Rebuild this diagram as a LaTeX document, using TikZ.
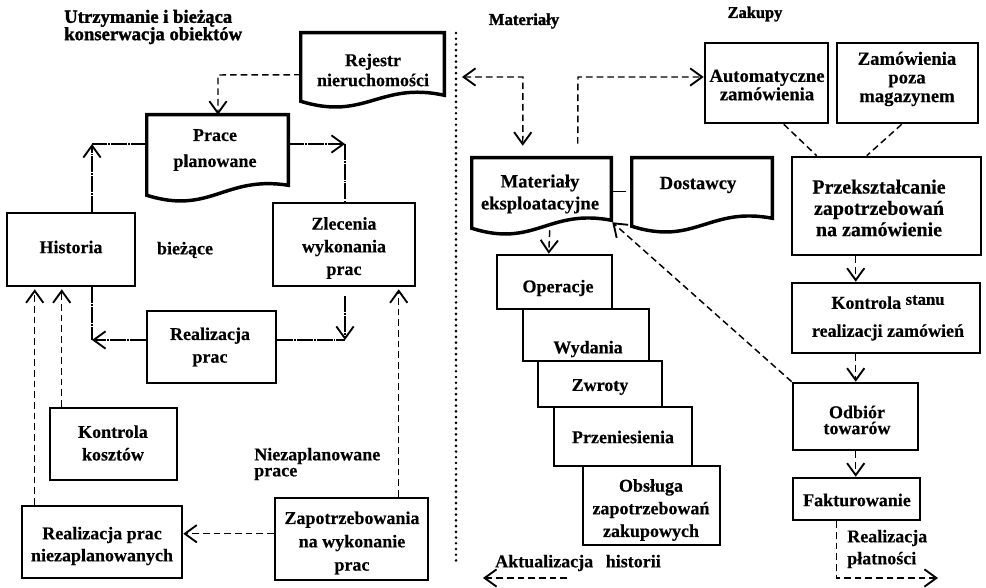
\documentclass[tikz,border=0pt]{standalone}
\usepackage{fontspec}
\setmainfont{Liberation Serif}[BoldFeatures={FakeBold=0.4}]
\newfontfamily\heavyfont{Liberation Serif}[BoldFeatures={FakeBold=1.6}]
\usetikzlibrary{arrows.meta,calc}
\newcommand\BoxN[5]{\node[boxst, minimum width={(#4-#2)*0.75pt}, minimum height={(#5-#3)*0.75pt}] (#1) at ({(#2+#4)/2},{(#3+#5)/2}) {};}
\newcommand\DocN[6]{\node[docst, minimum width={(#4-#2)*0.75pt}, minimum height={(#5-#3)*0.75pt}] (#1) at ({(#2+#4)/2},{(#3+#5)/2}) {};
 \draw[docline] (#1.south west) -- (#1.north west) -- (#1.north east) -- ($(#1.south east)+(0,#6)$) .. controls ($(#1.south west)!0.55!(#1.south east)+(0,-20)$) and ($(#1.south west)!0.45!(#1.south east)+(0,20)$) .. (#1.south west) -- cycle;}
\tikzset{
  boxst/.style={draw, line width=1.9pt, fill=white, inner sep=0pt},
  docst/.style={inner sep=0pt},
  docline/.style={line width=2.6pt, line join=miter, fill=white},
  lbl/.style 2 args={font=\bfseries\fontsize{#1}{#2}\selectfont, align=center, inner sep=0pt},
  ttl/.style 2 args={font=\heavyfont\bfseries\fontsize{#1}{#2}\selectfont, inner sep=0pt},
  dl/.style={line width=1.1pt, dash pattern=on 5pt off 3pt},
  tl/.style={line width=0.8pt, dash pattern=on 12pt off 0.8pt on 1.2pt off 0.8pt},
  ar/.style={-{Straight Barb[length=9pt,width=13pt,line width=1.4pt]}},
  ab/.style={{Straight Barb[length=9pt,width=13pt,line width=1.4pt]}-{Straight Barb[length=9pt,width=13pt,line width=1.4pt]}},
  dotln/.style={line width=2.2pt, dash pattern=on 0pt off 4.3pt, line cap=round}
}
\begin{document}
\begin{tikzpicture}[x=0.75pt,y=-0.75pt]
\fill[white] (0,0) rectangle (986,588);
\useasboundingbox (0,0) rectangle (986,588);

% titles
\node[ttl={14}{13}, anchor=west, align=left] (t1) at (64,27) {Utrzymanie i bieżąca\\konserwacja obiektów};
\node[ttl={12.5}{14}] (t2) at (524,21) {Materiały};
\node[ttl={12.3}{14}] (t3) at (755,14) {Zakupy};

% dotted separator
\coordinate (dtop) at (456,33);
\coordinate (dbot) at (456,563);
\draw[dotln] (dtop) -- (dbot);

% document shapes
\DocN{rej}{301}{33}{444}{101}{-6}
\DocN{prace}{147}{115}{288}{195}{-10}
\DocN{mat}{472}{158}{611}{228}{-8}
\DocN{dost}{632}{158}{772}{226}{-8}

% boxes left
\BoxN{hist}{7}{213}{135}{286}
\BoxN{zlec}{273}{203}{415}{286}
\BoxN{real}{147}{311}{276}{383}
\BoxN{kontr}{50}{408}{177}{480}
\BoxN{realn}{22}{506}{182}{578}
\BoxN{zapot}{275}{498}{428}{580}

% stacked boxes
\BoxN{ops}{497}{255}{612}{309}
\BoxN{wyd}{523}{309}{649}{361}
\BoxN{zwr}{538}{361}{662}{407}
\BoxN{prz}{554}{407}{692}{466}
\BoxN{obs}{583}{466}{720}{545}

% boxes right
\BoxN{auto}{705}{43}{828}{123}
\BoxN{poza}{837}{43}{978}{123}
\BoxN{przek}{792}{157}{981}{255}
\BoxN{kontst}{792}{283}{980}{353}
\BoxN{odb}{793}{383}{918}{450}
\BoxN{fakt}{793}{478}{920}{520}

% labels
\node[lbl={13.5}{15}] (rej-t) at (373,70) {Rejestr\\nieruchomości};
\node[lbl={13.5}{19.5}] (prace-t) at (215,150) {Prace\\planowane};
\node[lbl={13.5}{17}] (hist-t) at (71,247) {Historia};
\node[lbl={13.5}{17}] (zlec-t) at (344,248) {Zlecenia\\wykonania\\prac};
\node[lbl={13.5}{17}] (real-t) at (210,347) {Realizacja\\prac};
\node[lbl={13.5}{17}] (kontr-t) at (113,443) {Kontrola\\kosztów};
\node[lbl={13.5}{16.5}] (realn-t) at (102,546) {Realizacja prac\\niezaplanowanych};
\node[lbl={13.5}{17.5}] (zapot-t) at (352,543) {Zapotrzebowania\\na wykonanie\\prac};
\node[lbl={14}{16.5}] (mat-t) at (540,194) {Materiały\\eksploatacyjne};
\node[lbl={14}{17}] (dost-t) at (698,185) {Dostawcy};
\node[lbl={13.5}{17}] (ops-t) at (558,288) {Operacje};
\node[lbl={13.5}{17}] (wyd-t) at (588,349) {Wydania};
\node[lbl={13.5}{17}] (zwr-t) at (600,387) {Zwroty};
\node[lbl={13.5}{17}] (prz-t) at (623,437) {Przeniesienia};
\node[lbl={13.5}{17}] (obs-t) at (651,510) {Obsługa\\zapotrzebowań\\zakupowych};
\node[lbl={14}{12}] (auto-t) at (767,85) {Automatyczne\\zamówienia};
\node[lbl={14}{14}] (poza-t) at (907,79) {Zamówienia\\poza\\magazynem};
\node[lbl={15}{16}] (przek-t) at (879,208) {Przekształcanie\\zapotrzebowań\\na zamówienie};
\node[lbl={13.5}{21}] (kontst-t) at (888,318) {Kontrola \raisebox{3pt}{\fontsize{12.5}{12}\selectfont stanu}\\realizacji zamówień};
\node[lbl={13.5}{12}] (odb-t) at (857,420) {Odbiór\\towarów};
\node[lbl={13.5}{17}] (fakt-t) at (857,500) {Fakturowanie};

% free texts
\node[lbl={13.5}{17}] (bz) at (185,250) {bieżące};
\node[lbl={13.5}{12}, align=left, anchor=west] (np) at (254,464) {Niezaplanowane\\prace};
\node[lbl={13.5}{17}] (akt) at (578,563) {Aktualizacja\hspace{0.7em}historii};
\node[lbl={13.5}{16.5}, align=left, anchor=west] (rp) at (847,549) {Realizacja\\płatności};

% left connectors
\coordinate (k1) at (218,75);
\draw[dl,ar] ($(rej.north west)+(0,42)$) -- (k1) -- (k1 |- prace.north);
\coordinate (k2) at (92,144);
\draw[tl] (prace.north west |- k2) -- (k2);
\draw[tl,ar] (k2 |- hist.north) -- (k2);
\coordinate (k3) at (345,144);
\draw[tl,ar] (prace.north east |- k3) -- (k3);
\draw[tl] (k3) -- (k3 |- zlec.north);
\coordinate (k4) at (92,340);
\draw[tl] (k4 |- hist.south) -- (k4);
\draw[tl,ar] (real.west |- k4) -- (k4);
\coordinate (k5) at (345,340);
\draw[tl] (real.east |- k5) -- (k5);
\draw[tl,ar] ($(zlec.south)+(1,9)$) -- (k5);
\draw[dl,ar] ($(kontr.north west)+(13,0)$) -- ($(hist.south west)+(56,2)$);
\draw[dl,ar] ($(realn.north west)+(14,0)$) -- ($(hist.south west)+(29,2)$);
\draw[dl,ar] ($(zapot.north west)+(0,37)$) -- ($(realn.north east)+(0,29)$);
\draw[dl,ar] ($(zapot.north west)+(125,0)$) -- ($(zlec.south west)+(127,2)$);

% right connectors
\coordinate (k7) at (462,77);
\coordinate (k8) at (523,77);
\draw[dl,ab] (k7) -- (k8) -- ($(mat.north west)+(51,-12)$);
\coordinate (k9) at (578,77);
\draw[dl,ar] ($(mat.north west)+(106,-14)$) -- (k9) -- (auto.west |- k9);
\draw[line width=1pt] ($(mat.north east)+(2,34)$) -- ($(dost.north west)+(-6,34)$);
\draw[dl,ar] ($(mat.south west)+(78,2)$) -- ($(ops.north west)+(53,0)$);
\draw[dl,ar] (odb.north west) -- ($(mat.south east)+(1,-6)$);
\draw[dl] ($(auto.south west)+(80,0)$) -- ($(przek.north west)+(26,0)$);
\draw[dl] ($(poza.south west)+(66,0)$) -- ($(przek.north west)+(76,0)$);
\draw[dl,ar] ($(przek.south west)+(65,0)$) -- ($(kontst.north west)+(65,0)$);
\draw[dl,ar] ($(kontst.south west)+(65,0)$) -- ($(odb.north west)+(64,0)$);
\draw[dl,ar] ($(odb.south west)+(64,0)$) -- ($(fakt.north west)+(64,0)$);
\coordinate (k10) at (938,578);
\draw[dl,ar] ($(fakt.south west)+(45,0)$) |- (k10);
\coordinate (k11) at (567,578);
\coordinate (k12) at (483,578);
\draw[dl,ar] (k11) -- (k12);
\end{tikzpicture}
\end{document}
